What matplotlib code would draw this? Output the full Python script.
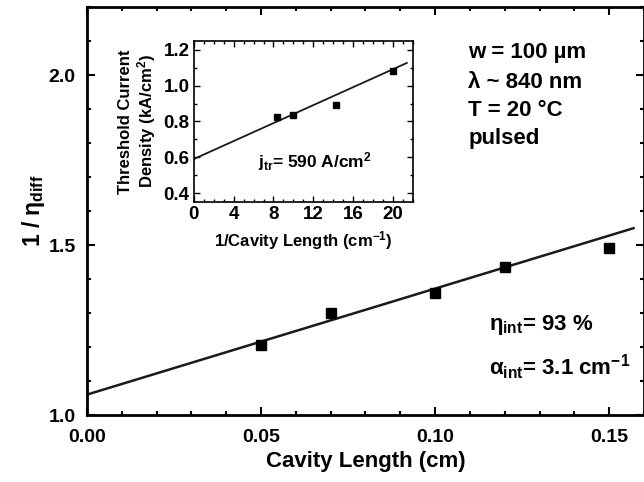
import matplotlib
matplotlib.use("Agg")
import matplotlib.pyplot as plt
import numpy as np
from matplotlib.ticker import MultipleLocator

plt.rcParams['font.family'] = ['Liberation Sans', 'DejaVu Sans']
plt.rcParams['font.weight'] = 'bold'
plt.rcParams['mathtext.fontset'] = 'custom'
plt.rcParams['mathtext.rm'] = 'Liberation Sans:bold'
plt.rcParams['mathtext.it'] = 'Liberation Sans:bold'
plt.rcParams['mathtext.bf'] = 'Liberation Sans:bold'

# main plot: 1/eta_diff vs cavity length
cavity_length = [0.05, 0.07, 0.10, 0.12, 0.15]
inv_eta = [1.205, 1.30, 1.36, 1.437, 1.49]
fit_intercept = 1.06
fit_slope = 3.12
fit_x = [0.0, 0.157]

# inset: threshold current density vs 1/L
inv_length = [8.33, 10.0, 14.29, 20.0]
j_th = [0.826, 0.838, 0.893, 1.083]
jtr = 0.59
j_slope = 0.0251
jfit_x = [0.0, 21.4]

fig = plt.figure(figsize=(6.44, 4.82), dpi=100)
ax = fig.add_axes([0.135, 0.139, 0.865, 0.846])

fx = np.array(fit_x)
ax.plot(fx, fit_intercept + fit_slope * fx, color='#1a1a1a', lw=1.8)
ax.plot(cavity_length, inv_eta, 's', color='black', ms=6.5)

ax.set_xlim(0, 0.16)
ax.set_ylim(1.0, 2.2)
ax.xaxis.set_major_locator(MultipleLocator(0.05))
ax.xaxis.set_minor_locator(MultipleLocator(0.01))
ax.yaxis.set_major_locator(MultipleLocator(0.5))
ax.yaxis.set_minor_locator(MultipleLocator(0.1))
ax.set_xticks([0.0, 0.05, 0.10, 0.15])
ax.set_xticklabels(['0.00', '0.05', '0.10', '0.15'])
ax.set_yticks([1.0, 1.5, 2.0])
ax.set_yticklabels(['1.0', '1.5', '2.0'])
ax.tick_params(which='both', direction='in', top=True, right=True, width=1.5)
ax.tick_params(which='major', length=6, labelsize=14)
ax.tick_params(axis='x', which='major', pad=10)
ax.tick_params(axis='y', which='major', pad=8)
ax.tick_params(which='minor', length=3)
for s in ax.spines.values():
    s.set_linewidth(2)
ax.set_xlabel('Cavity Length (cm)', fontsize=16, fontweight='bold', labelpad=4)
ax.set_ylabel(r'1 / $\eta_{\mathrm{diff}}$', fontsize=16.5, fontweight='bold')
ax.yaxis.set_label_coords(-0.072, 0.5)

ax.text(0.1095, 2.068, 'w = 100 µm', fontsize=16, fontweight='bold', va='center')
ax.text(0.1095, 1.979, 'λ ~ 840 nm', fontsize=16, fontweight='bold', va='center')
ax.text(0.1095, 1.897, 'T = 20 °C', fontsize=16, fontweight='bold', va='center')
ax.text(0.1095, 1.815, 'pulsed', fontsize=16, fontweight='bold', va='center')
ax.text(0.1155, 1.265, r'$\eta_{\mathrm{int}}$= 93 %', fontsize=16, va='center')
ax.text(0.1155, 1.141, r'$\alpha_{\mathrm{int}}$= 3.1 cm$^{\mathrm{-1}}$', fontsize=16, va='center')

# inset
ins = fig.add_axes([0.301, 0.581, 0.34, 0.334])
jx = np.array(jfit_x)
ins.plot(jx, jtr + j_slope * jx, color='#1a1a1a', lw=1.3)
ins.plot(inv_length, j_th, 's', color='black', ms=4)
ins.set_xlim(0, 22)
ins.set_ylim(0.35, 1.25)
ins.xaxis.set_major_locator(MultipleLocator(4))
ins.xaxis.set_minor_locator(MultipleLocator(1))
ins.yaxis.set_major_locator(MultipleLocator(0.2))
ins.yaxis.set_minor_locator(MultipleLocator(0.1))
ins.set_yticks([0.4, 0.6, 0.8, 1.0, 1.2])
ins.set_yticklabels(['0.4', '0.6', '0.8', '1.0', '1.2'])
ins.tick_params(which='both', direction='in', top=True, right=True, width=1)
ins.tick_params(which='major', length=4, labelsize=13.5, pad=3)
ins.tick_params(which='minor', length=2)
for s in ins.spines.values():
    s.set_linewidth(1.2)
ins.set_xlabel(r'1/Cavity Length (cm$^{\mathrm{-1}}$)', fontsize=12, fontweight='bold', labelpad=4)
ins.set_ylabel('Threshold Current\nDensity (kA/cm$^{\\mathrm{2}}$)', fontsize=12,
               fontweight='bold', labelpad=4, linespacing=1.1)
ins.text(6.4, 0.575, r'j$_{\mathrm{tr}}$= 590 A/cm$^{\mathrm{2}}$', fontsize=12.5, va='center')

fig.savefig('out.png', dpi=100)
